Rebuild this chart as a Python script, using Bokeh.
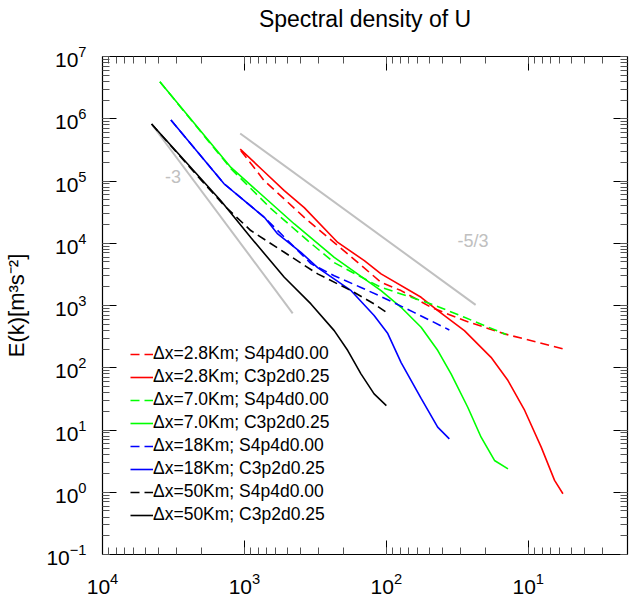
from bokeh.plotting import figure
from bokeh.models import (Range1d, LogAxis, LogTicker, Legend, LegendItem,
                          CustomJSTickFormatter, Label)
from bokeh.embed import file_html
from bokeh.resources import INLINE

# ---- data (wavelength [km], spectral energy) ----
lam_r_s4 = [1059, 725, 524, 379, 187, 109, 78.8, 48.4, 28.2, 14.7, 5.70]
E_r_s4 = [3.07e5, 1.01e5, 5.14e4, 2.60e4, 6730, 2357, 1735, 936, 572, 350, 201]

lam_r_c3 = [1071, 725, 524, 379, 220, 143, 109, 56.9, 43.4, 28.2, 18.3, 13.9, 10.6, 8.11, 6.53, 5.70]
E_r_c3 = [3.26e5, 1.41e5, 6.99e4, 3.73e4, 1.03e4, 5260, 3215, 1354, 828, 395, 147, 62.3, 20.6, 5.30, 1.55, 0.946]

lam_g_s4 = [3943, 1245, 650, 358, 233, 135, 109, 78.8, 48.4, 28.2, 14.3]
E_g_s4 = [3.93e6, 1.58e5, 3.59e4, 1.10e4, 4880, 2510, 1960, 1536, 1061, 647, 341]

lam_g_c3 = [3943, 1245, 445, 233, 109, 78.8, 56.9, 43.4, 35.0, 26.7, 21.5, 17.3, 13.9]
E_g_c3 = [3.93e6, 1.65e5, 2.04e4, 5940, 1735, 936, 447, 189, 79.8, 23.2, 7.66, 3.24, 2.38]

lam_b_s4 = [3296, 1387, 724, 340, 233, 151, 109, 63.4, 36.0]
E_b_s4 = [9.53e5, 8.95e4, 2.61e4, 4700, 3010, 1950, 1390, 769, 405]

lam_b_c3 = [3296, 1387, 724, 583, 400, 305, 177, 122, 97.7, 78.7, 56.9, 43.5, 36.0]
E_b_c3 = [9.53e5, 8.95e4, 2.61e4, 1.41e4, 7140, 4060, 1730, 689, 354, 121, 32.1, 11.1, 7.2]

lam_k_s4 = [4510, 2030, 1387, 902, 524, 305, 177, 122, 100]
E_k_s4 = [8.22e5, 1.05e5, 4.02e4, 1.6e4, 7160, 3220, 1730, 1060, 778]

lam_k_c3 = [4510, 1466, 902, 524, 340, 233, 187, 151, 122, 100]
E_k_c3 = [8.22e5, 4.83e4, 1.24e4, 2840, 1060, 395, 189, 79.8, 38.1, 24.7]

# reference slopes
ref3_lam = [4419, 457]
ref3_E = [7.72e5, 750]
ref53_lam = [1071, 23.5]
ref53_E = [5.8e5, 1023]

labels = ["\u0394x=2.8Km; S4p4d0.00", "\u0394x=2.8Km; C3p2d0.25",
          "\u0394x=7.0Km; S4p4d0.00", "\u0394x=7.0Km; C3p2d0.25",
          "\u0394x=18Km; S4p4d0.00", "\u0394x=18Km; C3p2d0.25",
          "\u0394x=50Km; S4p4d0.00", "\u0394x=50Km; C3p2d0.25"]

TITLE = "Spectral density of U"
FONT = "Liberation Sans"

p = figure(width=631, height=597, x_axis_type="log", y_axis_type="log",
           x_range=Range1d(1e4, 2), y_range=Range1d(0.1, 1e7),
           output_backend="svg", toolbar_location=None,
           min_border_left=102, min_border_right=4, min_border_top=56,
           min_border_bottom=43)
p.outline_line_color = None
p.grid.visible = False
p.background_fill_color = "white"
p.border_fill_color = "white"


def style_axis(ax, show_labels=True):
    ax.ticker = LogTicker(num_minor_ticks=10)
    ax.major_tick_in = 14
    ax.major_tick_out = 0
    ax.minor_tick_in = 7
    ax.minor_tick_out = 0
    ax.axis_line_color = "black"
    ax.axis_line_width = 1.2
    ax.major_tick_line_color = "black"
    ax.minor_tick_line_color = "#555555"
    ax.major_label_text_font = FONT
    ax.major_label_text_font_size = "21px"
    ax.major_label_text_color = "black"
    if not show_labels:
        ax.formatter = CustomJSTickFormatter(code="return ''")
        ax.major_label_standoff = 0
        ax.major_label_text_font_size = "0px"


style_axis(p.xaxis[0])
style_axis(p.yaxis[0])
p.xaxis[0].major_label_standoff = 18
p.yaxis[0].major_label_standoff = 16
p.yaxis[0].axis_label = "E(k)[m\u00b3s\u207b\u00b2]"
p.yaxis[0].axis_label_text_font = FONT
p.yaxis[0].axis_label_text_font_size = "22px"
p.yaxis[0].axis_label_text_font_style = "normal"
p.yaxis[0].axis_label_text_color = "black"
p.yaxis[0].axis_label_standoff = 14

# top axis (mirrored ticks) carries the chart title
ax_top = LogAxis()
style_axis(ax_top, False)
ax_top.axis_label = TITLE
ax_top.axis_label_text_font = FONT
ax_top.axis_label_text_font_size = "23px"
ax_top.axis_label_text_font_style = "normal"
ax_top.axis_label_text_color = "black"
ax_top.axis_label_standoff = 25
p.add_layout(ax_top, "above")
ax_right = LogAxis()
style_axis(ax_right, False)
p.add_layout(ax_right, "right")

# reference lines
GRAY = "#c0c0c0"
p.line(ref3_lam, ref3_E, line_color=GRAY, line_width=2)
p.line(ref53_lam, ref53_E, line_color=GRAY, line_width=2)
p.add_layout(Label(x=3190, y=1.2e5, text="-3", text_color=GRAY, text_font=FONT,
                   text_font_size="18px", text_align="center", text_baseline="middle"))
p.add_layout(Label(x=24.5, y=1.1e4, text="-5/3", text_color=GRAY, text_font=FONT,
                   text_font_size="18px", text_align="center", text_baseline="middle"))

series = [
    (lam_r_s4, E_r_s4, "red", "dashed"),
    (lam_r_c3, E_r_c3, "red", "solid"),
    (lam_g_s4, E_g_s4, "#00ff00", "dashed"),
    (lam_g_c3, E_g_c3, "#00ff00", "solid"),
    (lam_b_s4, E_b_s4, "blue", "dashed"),
    (lam_b_c3, E_b_c3, "blue", "solid"),
    (lam_k_s4, E_k_s4, "black", "dashed"),
    (lam_k_c3, E_k_c3, "black", "solid"),
]

items = []
for (xs, ys, col, style), lab in zip(series, labels):
    dash = "9 5" if style == "dashed" else "solid"
    r = p.line(xs, ys, line_color=col, line_width=1.6, line_dash=dash)
    items.append(LegendItem(label=lab, renderers=[r]))

legend = Legend(items=items, location=(28, 29), padding=0, margin=0,
                spacing=2, glyph_width=23, glyph_height=20, label_height=20,
                label_standoff=0, label_text_font=FONT,
                label_text_font_size="17.5px", label_text_color="black",
                background_fill_alpha=0, border_line_alpha=0)
p.add_layout(legend)

open("out.html", "w").write(file_html(p, INLINE))
